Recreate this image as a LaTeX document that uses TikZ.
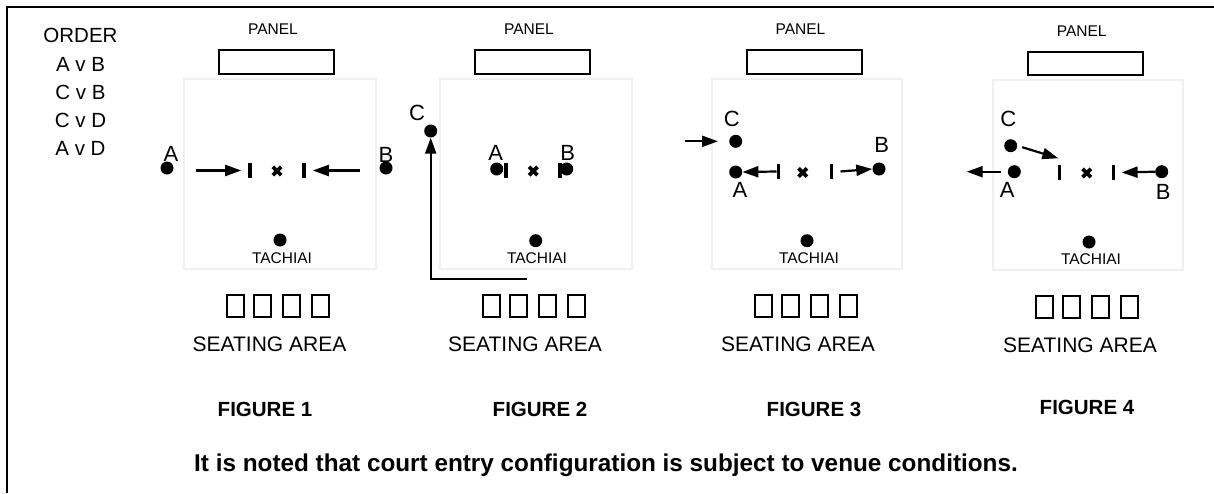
\documentclass[tikz,border=0pt]{standalone}
\usepackage{fontspec}
\setmainfont{Liberation Sans}
\usetikzlibrary{arrows.meta}
\begin{document}
\begin{tikzpicture}[x=1pt,y=-1pt,
  player/.style={circle,fill=black,inner sep=0pt,minimum size=13pt},
  ptxt/.style={inner sep=0pt,anchor=base,font=\fontsize{22}{22}\selectfont},
  smalltxt/.style={inner sep=0pt,anchor=base,font=\fontsize{15.5}{16}\selectfont},
  midtxt/.style={inner sep=0pt,anchor=base,font=\fontsize{20.5}{21}\selectfont},
  seattxt/.style={inner sep=0pt,anchor=base,font=\fontsize{21}{21}\selectfont},
  figlbl/.style={inner sep=0pt,anchor=base,font=\bfseries\fontsize{20.5}{21}\selectfont},
  notetxt/.style={inner sep=0pt,anchor=base,font=\bfseries\fontsize{24.3}{25}\selectfont},
  move/.style={line width=2.2pt,-{Triangle[length=16pt,width=11pt]}},
  vbar/.style={rectangle,fill=black,inner sep=0pt,minimum width=3.2pt,minimum height=15pt},
  court/.style={draw=black!6,line width=2.2pt},
  panelbox/.style={draw=black,line width=2.2pt},
  seat/.style={draw=black,line width=1.8pt},
  xmark/.pic={\draw[line width=3.8pt] (-4.2,-4.2)--(4.2,4.2) (-4.2,4.2)--(4.2,-4.2);}
]
\useasboundingbox (0,0) rectangle (1214,493);
% frame
\draw[line width=2.2pt] (1214,7) -- (7,7) -- (7,493);

% order list
\node[midtxt] (ord) at (80.5,42) {ORDER};
\node[midtxt] (o1) at (80.5,71) {A v B};
\node[midtxt] (o2) at (80.5,99.3) {C v B};
\node[midtxt] (o3) at (80.5,127.3) {C v D};
\node[midtxt] (o4) at (80.5,155) {A v D};

% ================= FIGURE 1
\node[smalltxt] (p1) at (273,34.3) {PANEL};
\draw[panelbox] (219,50) rectangle (334,74);
\draw[court] (184,79) rectangle (376,269);
\node[player] (f1A) at (167,168) {};
\node[ptxt] (f1Al) at (171,161) {A};
\node[player] (f1B) at (386,168) {};
\node[ptxt] (f1Bl) at (386,162.7) {B};
\node[vbar] (f1t1) at (250,170.5) {};
\node[vbar] (f1t2) at (304,170.5) {};
\pic at (277,171) {xmark};
\coordinate (f1s1) at (196,170.5);
\coordinate (f1s2) at (360,170.5);
\draw[move] (f1s1) -- ([xshift=-7pt]f1t1.west);
\draw[move] (f1s2) -- ([xshift=7pt]f1t2.east);
\node[player] (f1T) at (280,240) {};
\node[smalltxt] (f1Tl) at (282,263.3) {TACHIAI};
\foreach \sx in {227,254,283,312} \draw[seat] (\sx,295) rectangle ++(17,22);
\node[seattxt] (f1S) at (269.5,351) {SEATING AREA};
\node[figlbl] (f1F) at (265,416.7) {FIGURE 1};

% ================= FIGURE 2
\node[smalltxt] (p2) at (529,34.3) {PANEL};
\draw[panelbox] (475,50) rectangle (590,74);
\draw[court] (440,79) rectangle (632,269);
\node[player] (f2C) at (430.7,131) {};
\node[ptxt] (f2Cl) at (417,120.7) {C};
\coordinate (f2s) at (527,278.7);
\draw[move] (f2s) -| (f2C.south);
\node[player] (f2A) at (496.7,169) {};
\node[ptxt] (f2Al) at (495.7,160) {A};
\node[vbar] (f2t1) at (506,170.7) {};
\pic at (533.3,171) {xmark};
\node[vbar] (f2t2) at (560,170.7) {};
\node[player] (f2B) at (566.7,169) {};
\node[ptxt] (f2Bl) at (567.7,160) {B};
\node[player] (f2T) at (535.7,240.7) {};
\node[smalltxt] (f2Tl) at (537,263.3) {TACHIAI};
\foreach \sx in {483,510,539,568} \draw[seat] (\sx,295) rectangle ++(17,22);
\node[seattxt] (f2S) at (525,351) {SEATING AREA};
\node[figlbl] (f2F) at (540,416.7) {FIGURE 2};

% ================= FIGURE 3
\node[smalltxt] (p3) at (800.5,34.3) {PANEL};
\draw[panelbox] (747,50) rectangle (862,74);
\draw[court] (712,79) rectangle (902,269);
\node[player] (f3C) at (735.7,141.3) {};
\node[ptxt] (f3Cl) at (731.7,126.7) {C};
\coordinate (f3s) at (685,141.3);
\draw[move] (f3s) -- ([xshift=-11pt]f3C.west);
\node[player] (f3A) at (735.7,172) {};
\node[ptxt] (f3Al) at (740,197.3) {A};
\node[vbar] (f3t1) at (778.3,171.5) {};
\draw[move] (f3t1.west) -- (f3A.east);
\pic at (802.7,172.5) {xmark};
\node[vbar] (f3t2) at (831.7,171.5) {};
\node[player] (f3B) at (879,169) {};
\node[ptxt] (f3Bl) at (881.7,152.7) {B};
\draw[move] ([xshift=7pt]f3t2.east) -- (f3B.west);
\node[player] (f3T) at (807,240.7) {};
\node[smalltxt] (f3Tl) at (809,263.3) {TACHIAI};
\foreach \sx in {755,782,811,840} \draw[seat] (\sx,295) rectangle ++(17,22);
\node[seattxt] (f3S) at (798,351) {SEATING AREA};
\node[figlbl] (f3F) at (814,416.7) {FIGURE 3};

% ================= FIGURE 4
\node[smalltxt] (p4) at (1081.7,36) {PANEL};
\draw[panelbox] (1028,52) rectangle (1143,75);
\draw[court] (993,80) rectangle (1183,270);
\node[player] (f4C) at (1010.7,145.7) {};
\node[ptxt] (f4Cl) at (1008.3,126.7) {C};
\coordinate (f4ce) at (1058.3,158.3);
\draw[move,shorten <=5pt] (f4C.east) -- (f4ce);
\node[player] (f4A) at (1014.3,171.7) {};
\node[ptxt] (f4Al) at (1007.3,197.3) {A};
\coordinate (f4e) at (966.7,171.7);
\draw[move] ([xshift=-6.5pt]f4A.west) -- (f4e);
\node[vbar] (f4t1) at (1059.3,172.5) {};
\pic at (1086.7,173) {xmark};
\node[vbar] (f4t2) at (1113.3,172.5) {};
\node[player] (f4B) at (1161.7,171.7) {};
\node[ptxt] (f4Bl) at (1163.3,199.3) {B};
\draw[move] (f4B.west) -- ([xshift=6.5pt]f4t2.east);
\node[player] (f4T) at (1089,242) {};
\node[smalltxt] (f4Tl) at (1091,264) {TACHIAI};
\foreach \sx in {1036,1063,1092,1121} \draw[seat] (\sx,296) rectangle ++(17,22);
\node[seattxt] (f4S) at (1080,352.5) {SEATING AREA};
\node[figlbl] (f4F) at (1087,414) {FIGURE 4};

% note
\node[notetxt] (note) at (606,471) {It is noted that court entry configuration is subject to venue conditions.};
\end{tikzpicture}
\end{document}
